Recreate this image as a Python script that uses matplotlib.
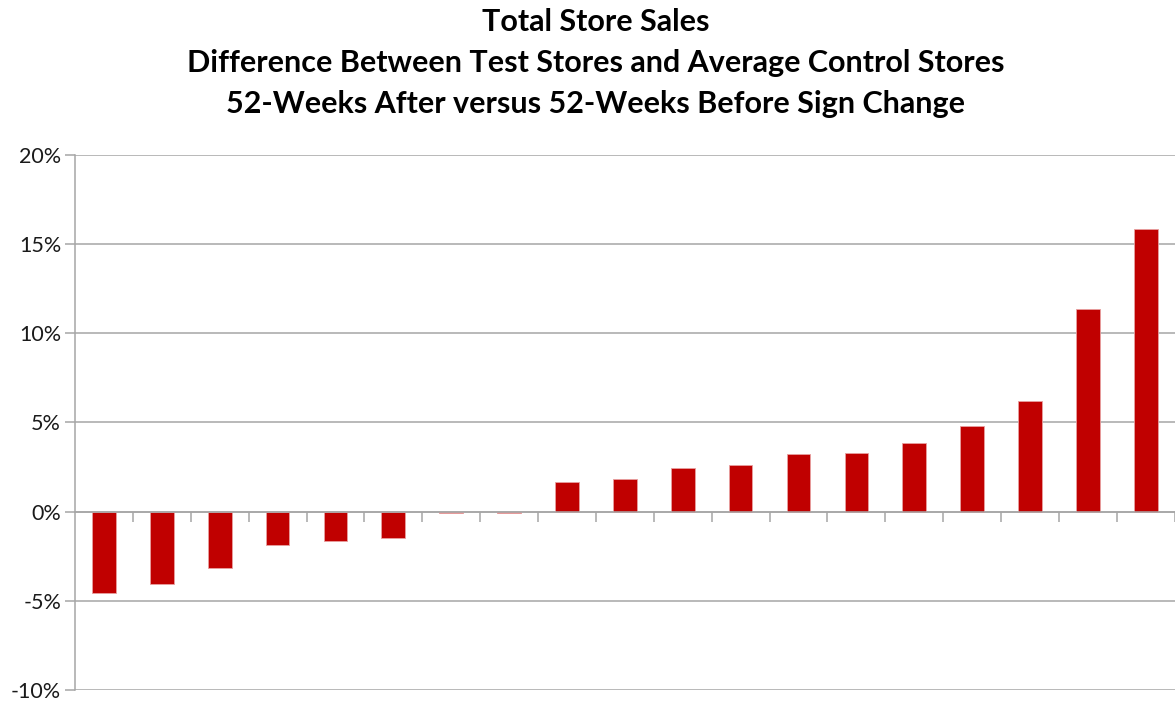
import numpy as np
import matplotlib
matplotlib.use("Agg")
import matplotlib.pyplot as plt
from matplotlib.ticker import FuncFormatter, FixedLocator

plt.rcParams['font.family'] = ['Lato', 'DejaVu Sans']
plt.rcParams['axes.unicode_minus'] = False

# store-level difference, sorted low to high (percent)
stores = [f"Store {i}" for i in range(1, 20)]
diff_pct = [-4.56, -4.06, -3.16, -1.85, -1.64, -1.48, -0.09, -0.09,
            1.65, 1.84, 2.43, 2.62, 3.22, 3.28, 3.86, 4.83, 6.20, 11.38, 15.85]

title_lines = ["Total Store Sales",
               "Difference Between Test Stores and Average Control Stores",
               "52-Weeks After versus 52-Weeks Before Sign Change"]

fig = plt.figure(figsize=(11.75, 7.04), dpi=100)
ax = fig.add_axes([0.0638, 0.0199, 0.936, 0.760])

x = np.arange(len(stores))
ax.bar(x, diff_pct, width=0.41, color="#C00000", edgecolor="#E8A0A0",
       linewidth=0.6, zorder=3)

ax.set_xlim(-0.5, len(stores) - 0.5)
ax.set_ylim(-10, 20)
ax.set_yticks(np.arange(-10, 21, 5))
ax.yaxis.set_major_formatter(FuncFormatter(lambda v, p: f"{v:.0f}%"))
ax.grid(axis="y", color="#A6A6A6", linewidth=1.1, zorder=0)

# category separators on the zero line
ax.xaxis.set_major_locator(FixedLocator(np.arange(0.5, len(stores), 1.0)))
ax.set_xticklabels([])
ax.spines["bottom"].set_position(("data", 0))
ax.spines["bottom"].set_color("#A6A6A6")
ax.spines["bottom"].set_linewidth(1.1)
ax.spines["bottom"].set_zorder(4)
ax.spines["left"].set_color("#A6A6A6")
ax.spines["left"].set_linewidth(1.1)
ax.spines["top"].set_visible(False)
ax.spines["right"].set_visible(False)
ax.tick_params(axis="x", direction="out", length=7, width=1.1, color="#A6A6A6")
ax.tick_params(axis="y", direction="out", length=7, width=1.1, color="#A6A6A6",
               labelsize=15.5, labelcolor="#1A1A1A", pad=3)

# title lines, one text per line to control spacing
for i, line in enumerate(title_lines):
    fig.text(0.507, 1 - (22 + 41 * i) / 704, line, ha="center", va="center",
             fontsize=22, fontweight="bold", color="black")

fig.savefig("out.png", dpi=100)
